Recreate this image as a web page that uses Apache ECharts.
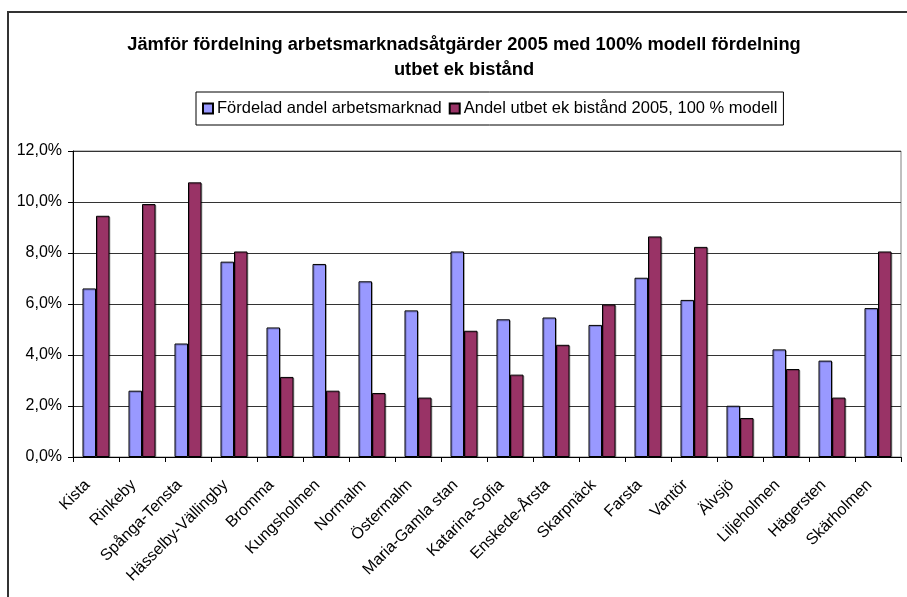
<!DOCTYPE html>
<html>
<head>
<meta charset="utf-8">
<script src="https://cdn.jsdelivr.net/npm/echarts@6/dist/echarts.min.js"></script>
<style>
  html, body { margin: 0; padding: 0; background: #fff; }
  #chart { width: 907px; height: 597px; }
</style>
</head>
<body>
<div id="chart"></div>
<script>
// Stadsdelar
const categories = [
    'Kista', 'Rinkeby', 'Spånga-Tensta', 'Hässelby-Vällingby', 'Bromma', 'Kungsholmen',
    'Normalm', 'Östermalm', 'Maria-Gamla stan', 'Katarina-Sofia', 'Enskede-Årsta', 'Skarpnäck',
    'Farsta', 'Vantör', 'Älvsjö', 'Liljeholmen', 'Hägersten', 'Skärholmen'
];

// Fördelad andel arbetsmarknad (%)
const arbetsmarknad = [6.61, 2.60, 4.45, 7.66, 5.08, 7.57, 6.89, 5.75, 8.06, 5.40, 5.47, 5.18, 7.03, 6.16, 2.01, 4.22, 3.78, 5.84];

// Andel utbet ek bistånd 2005, 100 % modell (%)
const bistand = [9.46, 9.92, 10.77, 8.06, 3.14, 2.60, 2.51, 2.33, 4.95, 3.23, 4.40, 5.98, 8.65, 8.24, 1.53, 3.45, 2.33, 8.06];

const seriesNames = ['Fördelad andel arbetsmarknad', 'Andel utbet ek bistånd 2005, 100 % modell'];
const titleText = 'Jämför fördelning arbetsmarknadsåtgärder 2005 med 100% modell fördelning\nutbet ek bistånd';

const font = 'Liberation Sans, Arial, sans-serif';

const chart = echarts.init(document.getElementById('chart'));

chart.setOption({
    animation: false,
    backgroundColor: '#fff',
    graphic: [{
        type: 'rect',
        shape: { x: 8, y: 12, width: 1000, height: 1000 },
        style: { fill: 'none', stroke: '#333', lineWidth: 2 },
        silent: true
    }],
    title: {
        text: titleText,
        left: 459,
        textAlign: 'center',
        top: 27,
        textStyle: {
            fontFamily: font,
            fontSize: 18.3,
            fontWeight: 'bold',
            color: '#000',
            lineHeight: 25
        }
    },
    legend: {
        data: seriesNames,
        left: 196,
        top: 92,
        padding: [8, 6, 8, 6],
        itemGap: 7,
        itemWidth: 10,
        itemHeight: 10,
        borderColor: '#000',
        borderWidth: 1,
        icon: 'rect',
        textStyle: { fontFamily: font, fontSize: 16.5, color: '#000', padding: [0, 0, 0, -1] }
    },
    grid: {
        left: 73,
        right: 6,
        top: 151,
        bottom: 140,
        show: true,
        borderColor: '#808080',
        borderWidth: 1,
        containLabel: false
    },
    xAxis: {
        type: 'category',
        data: categories,
        axisLine: { lineStyle: { color: '#000', width: 1 } },
        axisTick: { show: true, alignWithLabel: false, length: 5, lineStyle: { color: '#000' } },
        axisLabel: {
            rotate: 45,
            interval: 0,
            margin: 17,
            padding: [0, 12, 0, 0],
            fontFamily: font,
            fontSize: 16,
            color: '#000'
        }
    },
    yAxis: {
        type: 'value',
        min: 0,
        max: 12,
        interval: 2,
        axisLine: { show: true, lineStyle: { color: '#000', width: 1 } },
        axisTick: { show: true, length: 5, lineStyle: { color: '#000' } },
        splitLine: { lineStyle: { color: '#333', width: 1 } },
        axisLabel: {
            fontFamily: font,
            fontSize: 16,
            color: '#000',
            margin: 11,
            formatter: v => v.toFixed(1).replace('.', ',') + '%'
        }
    },
    series: [
        {
            name: seriesNames[0],
            type: 'bar',
            data: arbetsmarknad,
            barWidth: 13.5,
            barGap: '0%',
            itemStyle: {
                color: '#9999FF',
                borderColor: '#000',
                borderWidth: 1,
                shadowColor: 'rgba(0,0,0,0.25)',
                shadowOffsetX: 1,
                shadowOffsetY: 1
            }
        },
        {
            name: seriesNames[1],
            type: 'bar',
            data: bistand,
            barWidth: 13.5,
            barGap: '0%',
            itemStyle: {
                color: '#993366',
                borderColor: '#000',
                borderWidth: 1,
                shadowColor: 'rgba(0,0,0,0.25)',
                shadowOffsetX: 1,
                shadowOffsetY: 1
            }
        }
    ]
});
</script>
</body>
</html>
